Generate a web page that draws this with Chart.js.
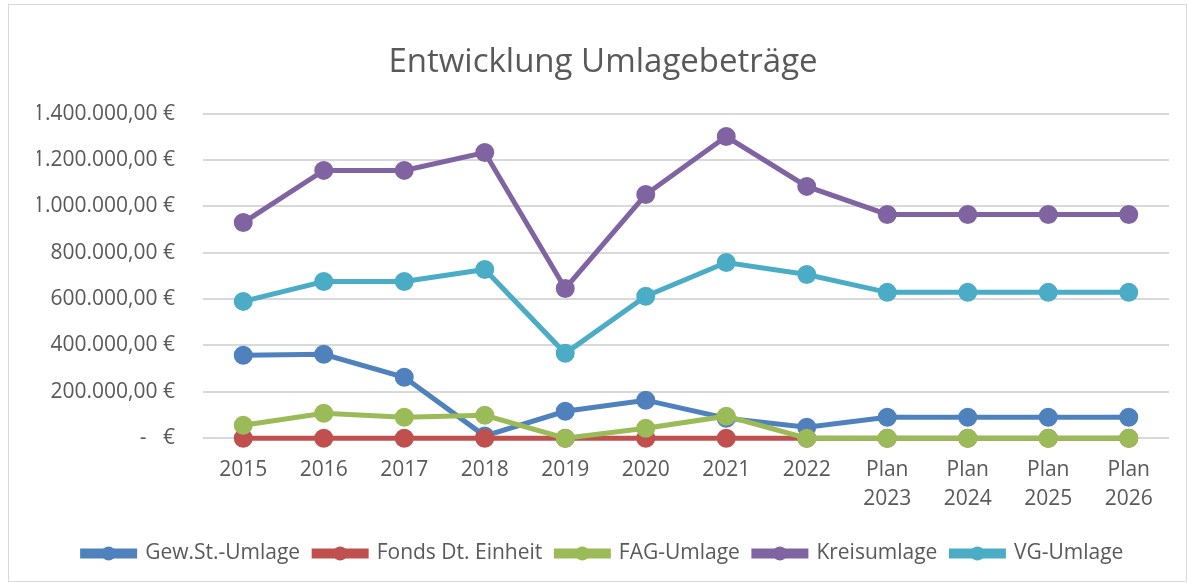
<!DOCTYPE html>
<html><head><meta charset="utf-8">
<script src="https://cdn.jsdelivr.net/npm/chart.js@4.4.0/dist/chart.umd.min.js"></script>
<style>html,body{margin:0;padding:0;background:#fff;}#wrap{width:1187px;height:583px;position:relative;}</style>
</head><body><div id="wrap"><canvas id="c" width="1187" height="583"></canvas></div>
<script>
const categories = ["2015","2016","2017","2018","2019","2020","2021","2022",["Plan","2023"],["Plan","2024"],["Plan","2025"],["Plan","2026"]];
const gewSt = [358000,362000,263000,10000,116000,164000,86000,47000,90000,90000,90000,90000];
const fonds = [0,0,0,0,0,0,0,0,0,0,0,0];
const fag = [56000,108000,90000,99000,0,43000,95000,0,0,0,0,0];
const kreis = [930000,1155000,1155000,1232000,646000,1051000,1301000,1086000,965000,965000,965000,965000];
const vg = [590000,676000,676000,728000,366000,612000,758000,706000,629000,629000,629000,629000];
const seriesNames = ["Gew.St.-Umlage","Fonds Dt. Einheit","FAG-Umlage","Kreisumlage","VG-Umlage"];
const yTicks = [0,200000,400000,600000,800000,1000000,1200000,1400000];

const colors = ["#4f81bd","#c0504d","#9bbb59","#8064a2","#4bacc6"];
const FONT = "'Open Sans', Lato, sans-serif";
const txt = "#595959";

function fmt(v){
  if (v === 0) return "-   €";
  const s = Math.round(v).toString().replace(/\B(?=(\d{3})+(?!\d))/g, ".");
  return s + ",00 €";
}
function ds(label, data, color, order){
  return {label, data, borderColor: color, backgroundColor: color, borderWidth: 5, order, clip: false,
    pointRadius: 7, pointHoverRadius: 7, pointBackgroundColor: color, pointBorderColor: color, tension: 0};
}
const borderPlugin = {
  id: 'frame',
  beforeDraw(chart){
    const ctx = chart.ctx;
    ctx.save();
    ctx.fillStyle = '#fff';
    ctx.fillRect(0,0,chart.width,chart.height);
    ctx.strokeStyle = '#d9d9d9';
    ctx.lineWidth = 1;
    ctx.strokeRect(8.5, 4.5, chart.width - 9, chart.height - 6);
    ctx.restore();
  }
};
const legendDots = {
  id: 'legendDots',
  afterDraw(chart){
    const lg = chart.legend;
    if (!lg || !lg.legendHitBoxes) return;
    const ctx = chart.ctx;
    const bw = lg.options.labels.boxWidth;
    lg.legendHitBoxes.forEach((hb, i) => {
      ctx.save();
      ctx.fillStyle = lg.legendItems[i].fillStyle;
      ctx.beginPath();
      ctx.arc(hb.left + bw/2, hb.top + hb.height/2, 7, 0, Math.PI*2);
      ctx.fill();
      ctx.restore();
    });
  }
};
new Chart(document.getElementById('c'), {
  type: 'line',
  data: {
    labels: categories,
    datasets: [
      ds(seriesNames[0], gewSt, colors[0], 5),
      ds(seriesNames[1], fonds, colors[1], 4),
      ds(seriesNames[2], fag, colors[2], 3),
      ds(seriesNames[3], kreis, colors[3], 2),
      ds(seriesNames[4], vg, colors[4], 1)
    ]
  },
  options: {
    responsive: false,
    animation: false,
    layout: {padding: {left: 37, right: 18, top: 0, bottom: 9}},
    plugins: {
      title: {display: true, text: "Entwicklung Umlagebeträge", color: txt,
        font: {family: FONT, size: 33, weight: 'normal'}, padding: {top: 43, bottom: 31}},
      legend: {position: 'bottom', labels: {color: txt, font: {family: FONT, size: 21},
        boxWidth: 52, boxHeight: 5, padding: 14, sort: (a,b) => a.datasetIndex - b.datasetIndex}},
      tooltip: {enabled: false}
    },
    scales: {
      x: {offset: true, grid: {display: false}, border: {display: false},
        afterFit(axis){ axis.height += 6; },
        ticks: {color: txt, font: {family: FONT, size: 21, lineHeight: 1.4}, padding: 9, maxRotation: 0, autoSkip: false}},
      y: {min: 0, max: 1400000, border: {display: false},
        grid: {color: '#d9d9d9', lineWidth: 2, drawTicks: false},
        afterBuildTicks(axis){ axis.ticks = yTicks.map(v=>({value: v})); },
        afterFit(axis){ axis.width = 166; },
        ticks: {color: txt, font: {family: FONT, size: 21}, padding: 28, callback: v => fmt(v)}}
    }
  },
  plugins: [borderPlugin, legendDots]
});
</script></body></html>
